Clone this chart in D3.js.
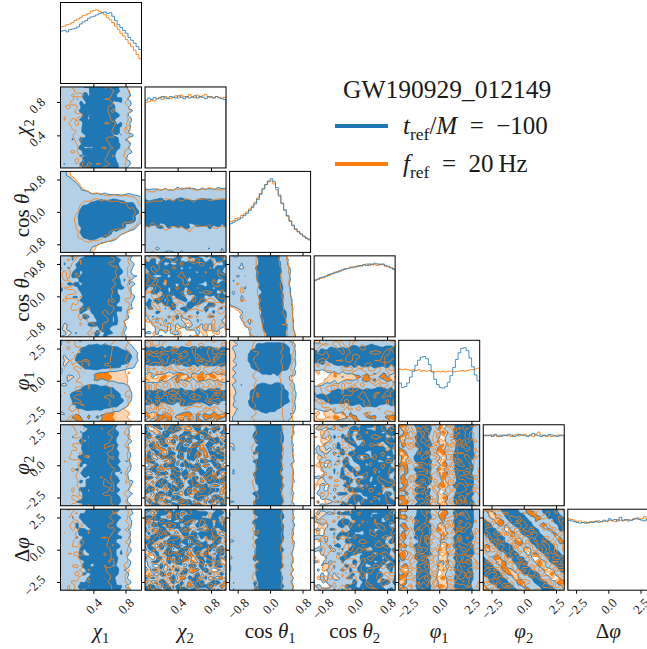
<!DOCTYPE html>
<html lang="en">
<head>
<meta charset="UTF-8">
<title>GW190929_012149 corner plot</title>
<style>
  body { margin: 0; background: #fff; }
  svg text { font-family: "Liberation Serif", "DejaVu Serif", serif; fill: #1a1a1a; }
</style>
<script src="https://cdn.jsdelivr.net/npm/d3@7"></script>
</head>
<body>
<svg id="corner" width="647" height="649"></svg>
<script>
// ---- parameters ----
const paramRanges = [[-0.01, 1.0], [0.01, 0.98], [-1, 1], [-1, 1], [-Math.PI, Math.PI], [-Math.PI, Math.PI], [-Math.PI, Math.PI]];
const paramTicks = [[0.4, 0.8], [0.4, 0.8], [-0.8, 0, 0.8], [-0.8, 0, 0.8], [-2.5, 0, 2.5], [-2.5, 0, 2.5], [-2.5, 0, 2.5]];
// label pieces: [text, style] with style "i" italic, "s" subscript, "" roman
const paramLabels = [
  [["χ", "i"], ["1", "s"]],
  [["χ", "i"], ["2", "s"]],
  [["cos ", ""], ["θ", "i"], ["1", "s"]],
  [["cos ", ""], ["θ", "i"], ["2", "s"]],
  [["φ", "i"], ["1", "s"]],
  [["φ", "i"], ["2", "s"]],
  [["Δ", ""], ["φ", "i"]]
];
const eventName = "GW190929_012149";
const seriesColors = ["#1f77b4", "#ff7f0e"];
const seriesLight = ["#b3d0e6", "#ffd4b0"];
const hpdLevels = [0.5, 0.9];

// ---- 1D marginal histograms (30 bins) ----
const chi1Blue = [0.74,0.75,0.73,0.76,0.77,0.78,0.80,0.84,0.87,0.89,0.92,0.94,0.95,0.97,0.99,1.00,1.01,0.99,1.00,0.95,0.89,0.83,0.79,0.75,0.71,0.65,0.61,0.57,0.52,0.48];
const chi1Orange = [0.80,0.81,0.83,0.84,0.86,0.89,0.91,0.93,0.96,0.97,0.99,1.02,1.03,1.04,1.02,1.00,0.97,0.93,0.90,0.86,0.81,0.76,0.71,0.67,0.62,0.57,0.52,0.47,0.41,0.35];
const chi2Blue = [0.92,0.95,0.93,0.96,0.94,0.95,0.97,0.95,0.94,0.97,0.96,0.95,0.98,0.96,0.94,0.97,0.95,0.96,0.98,0.95,0.97,0.96,0.94,0.97,0.96,0.95,0.97,0.95,0.94,0.93];
const chi2Orange = [0.89,0.90,0.92,0.91,0.94,0.96,0.93,0.97,0.95,0.94,0.96,0.98,0.95,0.99,0.97,0.96,1.00,0.97,0.95,0.99,0.96,0.98,1.00,0.96,0.97,0.95,0.97,0.96,0.95,0.96];
const cos1Blue = [0.39,0.41,0.43,0.45,0.47,0.50,0.53,0.57,0.61,0.66,0.72,0.79,0.86,0.92,0.97,1.00,0.96,0.88,0.78,0.67,0.58,0.50,0.43,0.37,0.32,0.28,0.25,0.22,0.19,0.17];
const cos1Orange = [0.42,0.43,0.46,0.47,0.50,0.52,0.55,0.59,0.63,0.68,0.74,0.80,0.87,0.92,0.96,0.97,0.93,0.85,0.76,0.66,0.57,0.49,0.42,0.36,0.31,0.28,0.25,0.22,0.20,0.18];
const cos2Blue = [0.75,0.76,0.78,0.79,0.80,0.82,0.83,0.84,0.85,0.87,0.88,0.89,0.90,0.91,0.92,0.92,0.93,0.94,0.95,0.94,0.96,0.95,0.97,0.96,0.95,0.96,0.94,0.93,0.91,0.89];
const cos2Orange = [0.74,0.76,0.77,0.78,0.80,0.81,0.83,0.85,0.86,0.86,0.88,0.90,0.90,0.92,0.91,0.93,0.94,0.93,0.95,0.96,0.94,0.96,0.95,0.94,0.96,0.95,0.93,0.92,0.91,0.90];
const phi1Blue = [0.52,0.46,0.47,0.52,0.60,0.68,0.76,0.83,0.87,0.88,0.85,0.77,0.67,0.57,0.50,0.46,0.45,0.47,0.53,0.62,0.73,0.84,0.93,0.99,1.00,0.96,0.86,0.74,0.63,0.55];
const phi1Orange = [0.71,0.70,0.71,0.70,0.69,0.70,0.69,0.70,0.68,0.69,0.68,0.69,0.68,0.67,0.68,0.67,0.68,0.67,0.68,0.68,0.67,0.68,0.68,0.69,0.68,0.69,0.70,0.70,0.71,0.72];
const phi2Blue = [0.96,0.95,0.96,0.94,0.97,0.95,0.94,0.96,0.95,0.97,0.96,0.94,0.95,0.97,0.96,0.95,0.94,0.96,0.98,0.96,0.95,0.94,0.96,0.95,0.97,0.96,0.95,0.94,0.96,0.95];
const phi2Orange = [0.95,0.96,0.95,0.96,0.95,0.94,0.96,0.95,0.96,0.95,0.94,0.96,0.97,0.95,0.96,0.97,0.95,0.96,0.94,0.97,1.00,0.96,0.95,0.94,0.95,0.94,0.95,0.96,0.95,0.96];
const dphiBlue = [0.95,0.94,0.93,0.92,0.91,0.92,0.91,0.92,0.93,0.92,0.93,0.94,0.93,0.95,0.94,0.97,0.95,0.96,0.94,0.99,0.95,0.96,0.94,0.95,0.97,0.98,0.96,0.95,0.94,0.96];
const dphiOrange = [0.97,0.96,0.95,0.93,0.94,0.92,0.93,0.91,0.92,0.93,0.94,0.92,0.93,0.94,0.93,0.95,0.94,0.93,0.96,0.95,0.94,0.95,0.96,0.95,0.96,0.97,0.98,0.97,1.00,0.97];
const histBlue = [chi1Blue, chi2Blue, cos1Blue, cos2Blue, phi1Blue, phi2Blue, dphiBlue];
const histOrange = [chi1Orange, chi2Orange, cos1Orange, cos2Orange, phi1Orange, phi2Orange, dphiOrange];

// ---- correlated 2D panels (blue), coarse density; rows top -> bottom ----
const cos1VsChi1 = [
  [4,3,1,0,0,0,0,0,0,0,0],
  [4,4,3,1,0,0,0,0,0,0,0],
  [4,4,4,3,2,2,1,1,1,1,1],
  [4,4,4,4,4,4,4,4,4,4,3],
  [4,4,5,6,7,8,8,8,7,6,4],
  [4,4,5,8,9,9,9,9,9,8,5],
  [4,4,6,9,9,9,9,9,8,7,4],
  [4,4,5,8,9,9,8,7,6,4,2],
  [4,4,5,7,8,7,6,4,2,1,1],
  [4,4,4,4,4,3,2,2,1,0,0],
  [4,4,4,4,3,1,0,0,0,0,0]
];
const cos2VsCos1 = [
  [4,4,4,6,9,9,8,4,1,0,0],
  [4,4,4,6,9,9,8,5,2,0,0],
  [4,4,4,5,8,9,9,5,2,0,0],
  [4,4,4,5,8,9,9,6,3,0,0],
  [2,3,4,4,7,9,9,7,3,1,0],
  [0,1,3,4,6,9,9,8,4,1,0]
];
const phi1VsChi1 = [
  [4,4,4,4,4,4,4,4,4,2,0],
  [4,4,5,7,8,8,8,7,6,4,1],
  [4,4,7,9,9,9,9,9,8,6,2],
  [4,4,7,9,9,9,9,9,8,6,2],
  [4,4,5,7,8,8,8,7,6,4,1],
  [4,4,4,4,4,3,2,1,0,0,0],
  [4,4,4,4,4,4,4,3,3,2,0],
  [4,4,6,8,8,8,7,6,5,3,1],
  [4,6,8,9,9,9,9,8,6,3,1],
  [4,6,8,9,9,9,9,8,6,3,0],
  [4,5,7,8,8,8,7,6,4,2,0],
  [4,4,4,4,4,4,3,2,1,0,0],
  [4,4,4,4,4,4,3,1,0,0,0]
];
const phi1VsCos1 = [
  [3,4,4,4,5,5,5,4,3,1,0],
  [3,4,4,6,8,8,8,7,4,1,0],
  [3,4,5,8,9,9,9,8,4,1,0],
  [3,4,5,8,9,9,9,8,4,1,0],
  [3,4,4,7,8,9,8,7,4,1,0],
  [3,4,4,4,6,6,6,4,4,1,0],
  [3,4,4,4,5,5,5,4,3,1,0],
  [3,4,4,6,8,8,8,6,4,1,0],
  [3,4,5,8,9,9,9,7,4,1,0],
  [3,4,5,8,9,9,9,7,4,1,0],
  [3,4,4,7,8,8,7,5,4,1,0],
  [3,4,4,4,5,5,5,4,3,1,0],
  [3,4,4,4,4,4,4,4,3,1,0]
];
// sample-noise grain seen in the flat panels (hand typed)
const grain = [
  "38271940562817394056",
  "91548302716495820371",
  "27069158344702681593",
  "64815273090658137249",
  "50392786411934570862",
  "18764029553287146905",
  "73920461887510392648",
  "45617832096142875310",
  "09284517632968043175",
  "86153904278431569027",
  "31740685921076284953",
  "72598130467359017486",
  "14063792853824695710",
  "69431578209517430286",
  "25876041396280751849",
  "80312967544693028571",
  "47659203187051864392",
  "93024718650748392015",
  "16587342091362507948",
  "58290156734819643027"
];

// joint grid lookup: key "row-col"
const jointGrids = {
  "2-0": { grid: cos1VsChi1, orange: true },
  "3-2": { grid: cos2VsCos1, orange: true },
  "4-0": { grid: phi1VsChi1, orange: false },
  "4-2": { grid: phi1VsCos1, orange: false }
};

// ---- layout ----
const svg = d3.select("#corner");
const side = 81;
const px = c => 60.5 + c * 84.55;
const py = r => 2.5 + r * 84.45;
const xScale = c => d3.scaleLinear().domain(paramRanges[c]).range([px(c), px(c) + side]);
const yScale = r => d3.scaleLinear().domain(paramRanges[r]).range([py(r) + side, py(r)]);
const fmt = d3.format(".1f");
const N = 50;
const grainAmp = 0.12;
const tickFont = 13;

function margAt(h, f) {
  const n = h.length;
  const sm = i => {
    i = Math.max(0, Math.min(n - 1, i));
    return (h[Math.max(0, i - 1)] + 2 * h[i] + h[Math.min(n - 1, i + 1)]) / 4;
  };
  const t = Math.max(0, Math.min(n - 1, f * n - 0.5));
  const k = Math.floor(t), w = t - k;
  return sm(k) * (1 - w) + sm(k + 1) * w;
}

function gridAt(g, fx, fy) {
  const rows = g.length, cols = g[0].length;
  const gx = fx * (cols - 1), gy = (1 - fy) * (rows - 1);
  const x0 = Math.min(cols - 2, Math.floor(gx)), y0 = Math.min(rows - 2, Math.floor(gy));
  const wx = gx - x0, wy = gy - y0;
  return g[y0][x0] * (1 - wx) * (1 - wy) + g[y0][x0 + 1] * wx * (1 - wy)
       + g[y0 + 1][x0] * (1 - wx) * wy + g[y0 + 1][x0 + 1] * wx * wy;
}

function grainAt(u, v, ox, oy) {
  const n = grain.length;
  const tx = u * n + ox, ty = v * n + oy;
  const x0 = Math.floor(tx), y0 = Math.floor(ty);
  const wx = tx - x0, wy = ty - y0;
  const g = (x, y) => +grain[((y % n) + n) % n][((x % n) + n) % n];
  const val = g(x0, y0) * (1 - wx) * (1 - wy) + g(x0 + 1, y0) * wx * (1 - wy)
            + g(x0, y0 + 1) * (1 - wx) * wy + g(x0 + 1, y0 + 1) * wx * wy;
  return (val - 4.5) / 4.5;
}

function density(r, c, s) {
  const hist = s === 0 ? histBlue : histOrange;
  const M = N + 2, vals = new Float64Array(M * M);
  const jg = jointGrids[r + "-" + c];
  const ox = (c * 7 + r * 3 + s * 11) % 20, oy = (r * 5 + c * 2 + s * 9) % 20;
  for (let j = 0; j < M; j++) {
    for (let i = 0; i < M; i++) {
      const fx = Math.min(1, Math.max(0, (i - 0.5) / N));
      const fy = Math.min(1, Math.max(0, (j - 0.5) / N));
      let d;
      if (jg && (s === 0 || jg.orange)) {
        d = gridAt(jg.grid, fx, fy);
        if (s === 1) {
          d *= margAt(histOrange[c], fx) / margAt(histBlue[c], fx);
          d *= margAt(histOrange[r], fy) / margAt(histBlue[r], fy);
        }
      } else {
        d = margAt(hist[c], fx) * margAt(hist[r], fy);
      }
      if (r === 6 && c === 5) {
        // stripes along phi2 + dphi = phi1
        let p = (-Math.PI + fx * 2 * Math.PI) + (-Math.PI + fy * 2 * Math.PI);
        p = ((p + Math.PI) % (2 * Math.PI) + 2 * Math.PI) % (2 * Math.PI);
        d *= margAt(hist[4], p / (2 * Math.PI));
      }
      vals[i + j * M] = Math.max(0, d) * (1 + grainAmp * grainAt(fx, fy, ox, oy));
    }
  }
  // highest-density levels from interior cells
  const inner = [];
  for (let j = 1; j <= N; j++) for (let i = 1; i <= N; i++) inner.push(vals[i + j * M]);
  inner.sort((a, b) => b - a);
  const tot = d3.sum(inner);
  const th = [];
  let cum = 0, li = 0;
  for (const v of inner) {
    cum += v;
    while (li < hpdLevels.length && cum >= hpdLevels[li] * tot) { th[li] = v; li++; }
    if (li >= hpdLevels.length) break;
  }
  return d3.contours().size([M, M]).thresholds([th[1], th[0]])(Array.from(vals));
}

const defs = svg.append("defs");

for (let r = 0; r < 7; r++) {
  for (let c = 0; c <= r; c++) {
    const g = svg.append("g");
    const x = xScale(c);
    const clipId = `clip-${r}-${c}`;
    defs.append("clipPath").attr("id", clipId)
      .append("rect").attr("x", px(c)).attr("y", py(r)).attr("width", side).attr("height", side);
    const body = g.append("g").attr("clip-path", `url(#${clipId})`);

    if (r === c) {
      // 1D histogram
      const n = histBlue[c].length;
      const ymax = 1.1 * Math.max(d3.max(histBlue[c]), d3.max(histOrange[c]));
      const y = d3.scaleLinear().domain([0, ymax]).range([py(r) + side, py(r)]);
      const [d0, d1] = paramRanges[c];
      const edge = k => d0 + (d1 - d0) * k / n;
      const stepPts = h => {
        const pts = [[edge(0), 0]];
        h.forEach((v, k) => { pts.push([edge(k), v], [edge(k + 1), v]); });
        pts.push([edge(n), 0]);
        return pts;
      };
      const line = d3.line().x(d => x(d[0])).y(d => y(d[1]));
      [histOrange[c], histBlue[c]].forEach((h, k) => {
        body.append("path").attr("d", line(stepPts(h)))
          .attr("fill", "none")
          .attr("stroke", seriesColors[1 - k])
          .attr("stroke-width", 1)
          .attr("stroke-opacity", k === 1 ? 0.8 : 0.9);
      });
    } else {
      const proj = d3.geoTransform({
        point: function (gx, gy) {
          this.stream.point(px(c) + (gx - 1) / N * side, py(r) + side - (gy - 1) / N * side);
        }
      });
      const path = d3.geoPath(proj);
      const blue = density(r, c, 0);
      const orange = density(r, c, 1);
      // orange fills underneath, then blue fills, then both sets of lines
      orange.forEach((ct, k) => body.append("path").attr("d", path(ct)).attr("fill", k === 0 ? seriesLight[1] : seriesColors[1]));
      blue.forEach((ct, k) => body.append("path").attr("d", path(ct)).attr("fill", k === 0 ? seriesLight[0] : seriesColors[0]));
      blue.forEach(ct => body.append("path").attr("d", path(ct)).attr("fill", "none")
        .attr("stroke", seriesColors[0]).attr("stroke-width", 0.9));
      orange.forEach(ct => body.append("path").attr("d", path(ct)).attr("fill", "none")
        .attr("stroke", seriesColors[1]).attr("stroke-width", 0.9));
    }

    // ticks
    const xa = g.append("g").attr("transform", `translate(0,${py(r) + side})`)
      .call(d3.axisBottom(x).tickValues(paramTicks[c]).tickSize(3.5).tickFormat(r === 6 ? fmt : ""));
    xa.select(".domain").remove();
    xa.selectAll("line").attr("stroke", "#000");
    if (r === 6) {
      xa.selectAll("text").each(function () {
        const t = d3.select(this).attr("font-size", tickFont).attr("font-family", null)
          .attr("y", 0).attr("dy", "0.35em").attr("text-anchor", "middle");
        const len = this.getComputedTextLength();
        const half = (len + 9) * 0.7071 / 2;
        t.attr("transform", `translate(0,${7 + half}) rotate(-45)`);
      });
    }
    if (c < r) {
      const ya = g.append("g").attr("transform", `translate(${px(c)},0)`)
        .call(d3.axisLeft(yScale(r)).tickValues(paramTicks[r]).tickSize(3.5).tickFormat(c === 0 ? fmt : ""));
      ya.select(".domain").remove();
      ya.selectAll("line").attr("stroke", "#000");
      if (c === 0) {
        ya.selectAll("text").each(function () {
          const t = d3.select(this).attr("font-size", tickFont).attr("font-family", null)
            .attr("x", 0).attr("dy", "0.35em").attr("text-anchor", "middle");
          const len = this.getComputedTextLength();
          const half = (len + 9) * 0.7071 / 2;
          t.attr("transform", `translate(${-(px(0) - 46) - half},3) rotate(-45)`);
        });
      }
    }

    g.append("rect").attr("x", px(c)).attr("y", py(r)).attr("width", side).attr("height", side)
      .attr("fill", "none").attr("stroke", "#000").attr("stroke-width", 1);
  }
}

// axis labels
function addLabel(sel, pieces, size) {
  pieces.forEach(([txt, st], k) => {
    const prev = k > 0 ? pieces[k - 1][1] : "";
    const ts = sel.append("tspan").text(txt);
    if (st === "i") ts.attr("font-style", "italic");
    if (st === "s") ts.attr("font-size", size * 0.7).attr("dy", size * 0.22);
    else if (prev === "s") ts.attr("dy", -size * 0.22);
  });
}
for (let c = 0; c < 7; c++) {
  const t = svg.append("text").attr("x", px(c) + side / 2).attr("y", 638)
    .attr("text-anchor", "middle").attr("font-size", 21);
  addLabel(t, paramLabels[c], 21);
}
for (let r = 1; r < 7; r++) {
  const t = svg.append("text").attr("text-anchor", "middle").attr("font-size", 21)
    .attr("transform", `translate(29,${py(r) + side / 2}) rotate(-90)`);
  addLabel(t, paramLabels[r], 21);
}

// legend
svg.append("text").attr("x", 343).attr("y", 98).attr("font-size", 25.5).text(eventName);
const legendRows = [
  [["t", "i"], ["ref", "s"], ["/", ""], ["M", "i"], ["\u2002=\u2002−100", ""]],
  [["f", "i"], ["ref", "s"], ["\u2002=\u200220\u2009Hz", ""]]
];
legendRows.forEach((pieces, k) => {
  const yy = 126 + k * 38;
  svg.append("line").attr("x1", 335).attr("x2", 388).attr("y1", yy).attr("y2", yy)
    .attr("stroke", seriesColors[k]).attr("stroke-width", 4);
  const t = svg.append("text").attr("x", 403).attr("y", yy + 8).attr("font-size", 25);
  addLabel(t, pieces, 25);
});
</script>
</body>
</html>
